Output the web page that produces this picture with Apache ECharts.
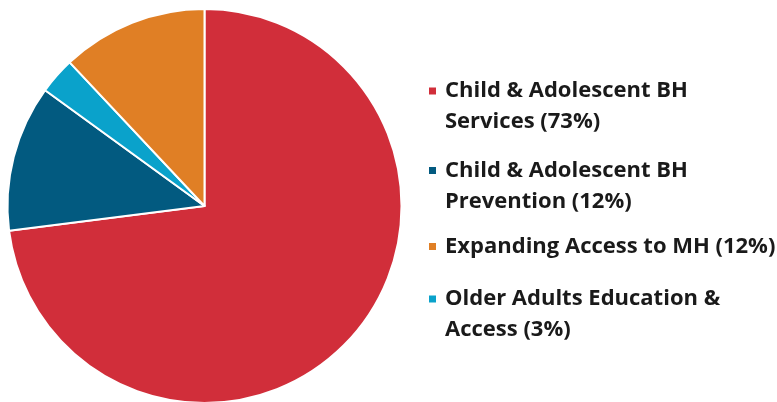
<!DOCTYPE html>
<html>
<head>
<meta charset="utf-8">
<script src="https://cdn.jsdelivr.net/npm/echarts@6/dist/echarts.min.js"></script>
<style>
html,body{margin:0;padding:0;background:#fff;}
#chart{width:777px;height:402px;}
</style>
</head>
<body>
<div id="chart"></div>
<script>
const categories = [
  'Child & Adolescent BH Services',
  'Child & Adolescent BH Prevention',
  'Older Adults Education & Access',
  'Expanding Access to MH'
];
const values = [73, 12, 3, 12];
const legendLabels = {
  'Child & Adolescent BH Services': 'Child & Adolescent BH\nServices (73%)',
  'Child & Adolescent BH Prevention': 'Child & Adolescent BH\nPrevention (12%)',
  'Expanding Access to MH': 'Expanding Access to MH (12%)',
  'Older Adults Education & Access': 'Older Adults Education &\nAccess (3%)'
};
const colors = ['#D12E3A', '#025A80', '#0AA2CB', '#E07F25'];

const chart = echarts.init(document.getElementById('chart'));

function makeLegend(name, top, twoLine) {
  return {
    data: [name],
    left: 427,
    top: top,
    orient: 'vertical',
    padding: 0,
    itemWidth: 9,
    itemHeight: 9,
    icon: 'rect',
    selectedMode: false,
    // leading blank line keeps the marker beside the first text line
    formatter: n => (twoLine ? '\n' : '') + legendLabels[n],
    textStyle: {
      fontFamily: 'Open Sans',
      fontWeight: 'bold',
      fontSize: 22,
      color: '#1a1a1a',
      lineHeight: 31,
      padding: [0, 0, 0, 3]
    }
  };
}

chart.setOption({
  animation: false,
  color: colors,
  legend: [
    makeLegend(categories[0], 44.5, true),
    makeLegend(categories[1], 124, true),
    makeLegend(categories[3], 231, false),
    makeLegend(categories[2], 252.5, true)
  ],
  series: [{
    type: 'pie',
    center: [204.5, 206],
    radius: 197,
    startAngle: 90,
    clockwise: true,
    label: { show: false },
    labelLine: { show: false },
    itemStyle: { borderColor: '#fff', borderWidth: 2 },
    data: categories.map((c, i) => ({ name: c, value: values[i] }))
  }]
});
</script>
</body>
</html>
